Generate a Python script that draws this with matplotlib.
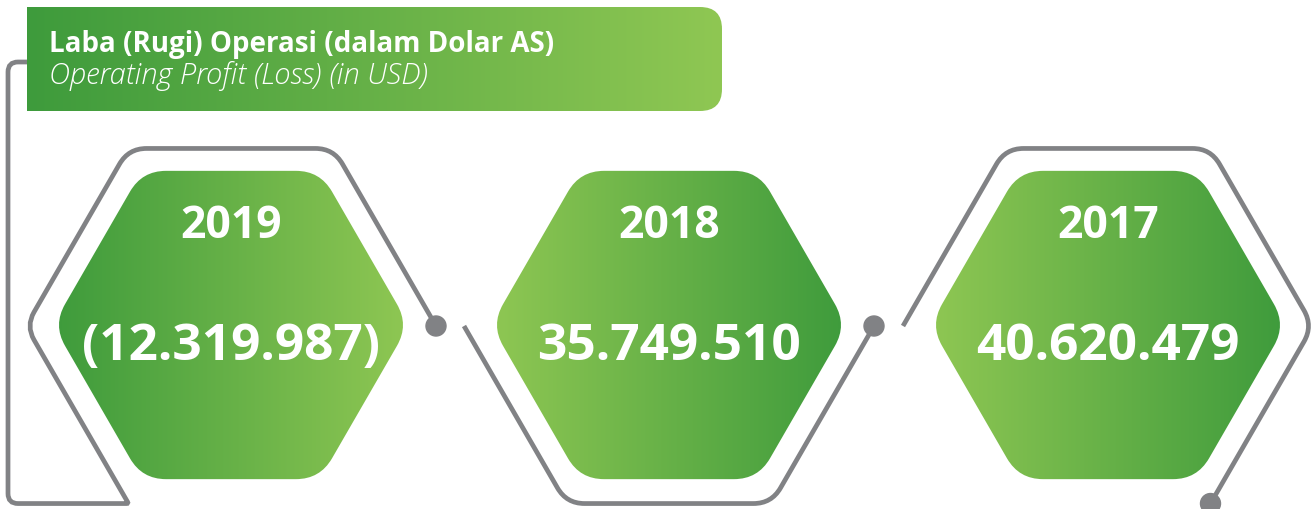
import numpy as np
import matplotlib
matplotlib.use("Agg")
import matplotlib.pyplot as plt
from matplotlib.path import Path
from matplotlib.patches import PathPatch, Circle
from matplotlib.colors import LinearSegmentedColormap

# chart content
title_id = "Laba (Rugi) Operasi (dalam Dolar AS)"
title_en = "Operating Profit (Loss) (in USD)"
years = ["2019", "2018", "2017"]
values = [-12319987, 35749510, 40620479]

# colours
dark_green = "#3e9b3c"
light_green = "#8fc753"
grey = "#818285"

W, H = 1312, 510
fig = plt.figure(figsize=(W / 100, H / 100), dpi=100)
ax = fig.add_axes([0, 0, 1, 1])
ax.set_xlim(0, W)
ax.set_ylim(H, 0)
ax.axis("off")

s60 = np.sqrt(3) / 2


def fmt(v):
    txt = f"{abs(v):,}".replace(",", ".")
    return f"({txt})" if v < 0 else txt


def rounded_path(pts, radii, closed=True):
    pts = [np.array(p, float) for p in pts]
    n = len(pts)
    verts, codes = [], []
    for i in range(n):
        p = pts[i]
        r = radii[i] if np.ndim(radii) else radii
        if not closed and (i == 0 or i == n - 1):
            verts.append(p)
            codes.append(Path.MOVETO if i == 0 else Path.LINETO)
            continue
        prv, nxt = pts[i - 1], pts[(i + 1) % n]
        d1 = (prv - p) / np.linalg.norm(prv - p)
        d2 = (nxt - p) / np.linalg.norm(nxt - p)
        a, b = p + d1 * r, p + d2 * r
        verts.append(a)
        codes.append(Path.MOVETO if not verts[:-1] else Path.LINETO)
        verts += [p, b]
        codes += [Path.CURVE3, Path.CURVE3]
    if closed:
        verts.append(verts[0])
        codes.append(Path.CLOSEPOLY)
    return Path(verts, codes)


def hexagon(cx, cy, R):
    # flat-top hexagon, y grows downwards
    return [(cx + R, cy), (cx + R / 2, cy + R * s60), (cx - R / 2, cy + R * s60),
            (cx - R, cy), (cx - R / 2, cy - R * s60), (cx + R / 2, cy - R * s60)]


def gradient_fill(path, x0, x1, y0, y1, c_left, c_right):
    cmap = LinearSegmentedColormap.from_list("g", [c_left, c_right])
    patch = PathPatch(path, facecolor="none", edgecolor="none")
    ax.add_patch(patch)
    img = ax.imshow(np.linspace(0, 1, 256)[None, :], cmap=cmap, aspect="auto",
                    extent=[x0, x1, y1, y0], interpolation="bilinear", zorder=2)
    img.set_clip_path(patch)


def line_path(pts, radii):
    ax.add_patch(PathPatch(rounded_path(pts, radii, closed=False), facecolor="none",
                           edgecolor=grey, lw=3.4, capstyle="butt", joinstyle="miter", zorder=1))


# title box
box = [(27, 8), (722, 8), (722, 112), (27, 112)]
gradient_fill(rounded_path(box, [0, 22, 22, 0]), 27, 722, 8, 112, dark_green, light_green)
ax.text(49, 52, title_id, color="white", fontsize=20, fontweight="bold",
        family="Open Sans", va="baseline", ha="left", zorder=3)
ax.text(49, 84, title_en, color="white", fontsize=21, style="italic", fontweight="light",
        family="Open Sans", va="baseline", ha="left", zorder=3)

# hexagons
cx_list = [231, 669, 1108]
cy = 326
R_in, R_out = 178, 205
oy = 327
for i, cx in enumerate(cx_list):
    pts = hexagon(cx, cy, R_in)
    c0, c1 = (dark_green, light_green) if i == 0 else (light_green, dark_green)
    gradient_fill(rounded_path(pts, 24), cx - R_in, cx + R_in, cy - R_in, cy + R_in, c0, c1)
    ax.text(cx, 238, years[i], color="white", fontsize=32, fontweight="bold",
            family="Open Sans", ha="center", va="baseline", zorder=3)
    ax.text(cx, 360, fmt(values[i]), color="white", fontsize=37, fontweight="bold",
            family="Open Sans", ha="center", va="baseline", zorder=3)

# outline connectors
cx = cx_list[0]
p1 = [(27, 63), (8, 63), (8, oy + R_out * s60), (cx - R_out / 2, oy + R_out * s60),
      (cx - R_out, oy), (cx - R_out / 2, oy - R_out * s60), (cx + R_out / 2, oy - R_out * s60),
      (cx + R_out, oy)]
line_path(p1, [0, 10, 10, 2, 16, 18, 18, 0])
dots = [(cx + R_out, oy)]

cx = cx_list[1]
p2 = [(cx - R_out, oy), (cx - R_out / 2, oy + R_out * s60), (cx + R_out / 2, oy + R_out * s60),
      (cx + R_out, oy)]
line_path(p2, [0, 18, 18, 0])
dots.append((cx + R_out, oy))

cx = cx_list[2]
p3 = [(cx - R_out, oy), (cx - R_out / 2, oy - R_out * s60), (cx + R_out / 2, oy - R_out * s60),
      (cx + R_out, oy), (cx + R_out / 2, oy + R_out * s60)]
line_path(p3, [0, 18, 18, 18, 0])
dots.append((cx + R_out / 2, oy + R_out * s60))

for d in dots:
    ax.add_patch(Circle(d, 10, color=grey, zorder=4))

ax.set_xlim(0, W)
ax.set_ylim(H, 0)
fig.savefig("out.png", dpi=100)
